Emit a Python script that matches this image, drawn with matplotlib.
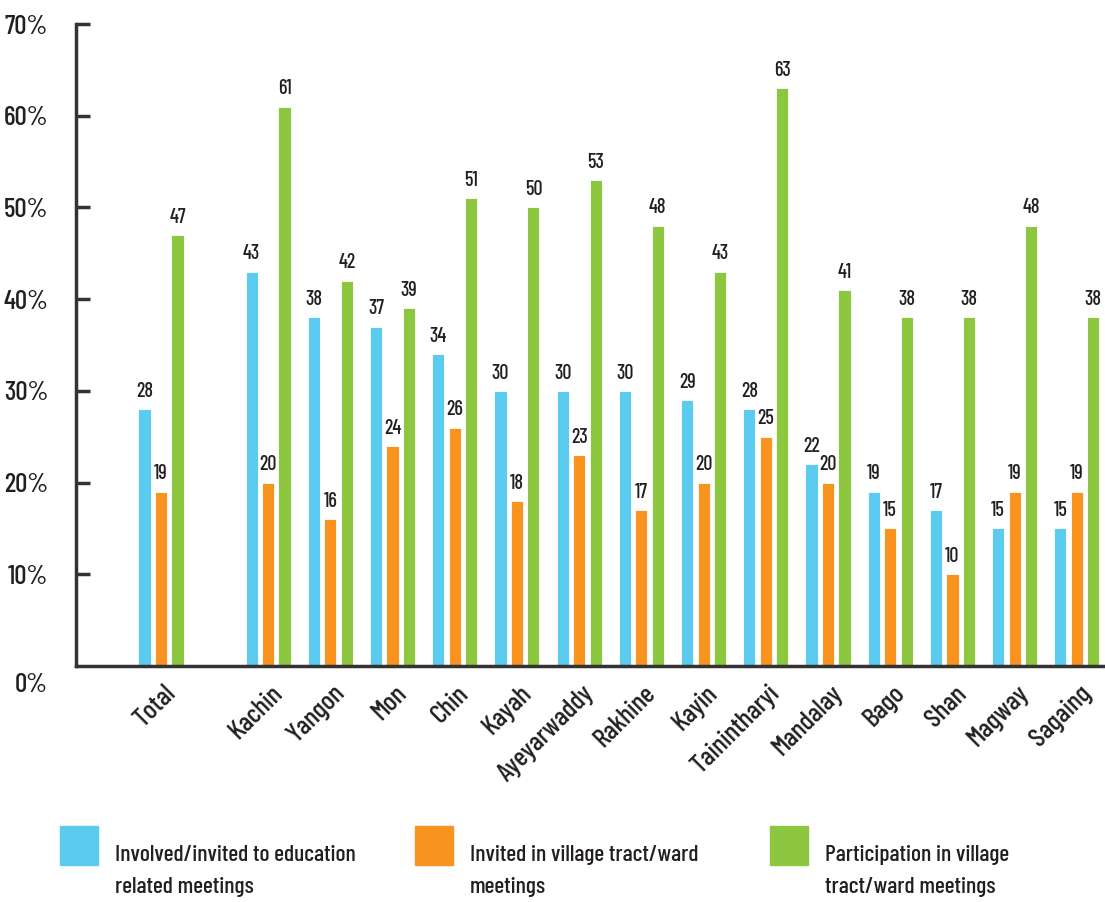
import matplotlib
matplotlib.use("Agg")
import matplotlib.pyplot as plt
import matplotlib.transforms as mtransforms
from matplotlib.patches import Rectangle
import numpy as np

plt.rcParams['font.family'] = ['Barlow Condensed', 'DejaVu Sans']
plt.rcParams['font.weight'] = 'medium'

categories = ["Total", "Kachin", "Yangon", "Mon", "Chin", "Kayah", "Ayeyarwaddy",
              "Rakhine", "Kayin", "Tainintharyi", "Mandalay", "Bago", "Shan",
              "Magway", "Sagaing"]
education = [28, 43, 38, 37, 34, 30, 30, 30, 29, 28, 22, 19, 17, 15, 15]
invited = [19, 20, 16, 24, 26, 18, 23, 17, 20, 25, 20, 15, 10, 19, 19]
participation = [47, 61, 42, 39, 51, 50, 53, 48, 43, 63, 41, 38, 38, 48, 38]
series_names = ["Involved/invited to education\nrelated meetings",
                "Invited in village tract/ward\nmeetings",
                "Participation in village\ntract/ward meetings"]
colors = ["#5BCBF0", "#F7931E", "#8DC63F"]
yticks = [0, 10, 20, 30, 40, 50, 60, 70]

text_color = "#231F20"
axis_color = "#333333"

fig = plt.figure(figsize=(11.05, 9.02), dpi=100)
ax = fig.add_axes([76/1105, 236/902, (1103-76)/1105, (666-24)/902])

x = np.array([0.0] + [1.72 + i for i in range(len(categories) - 1)])
w = 0.195
step = 0.265
for k, (vals, c) in enumerate(zip([education, invited, participation], colors)):
    xs = x + (k - 1) * step
    ax.bar(xs, vals, width=w, color=c, edgecolor="white", linewidth=0.6, zorder=2)
    for xi, v in zip(xs, vals):
        ax.annotate(str(v), (xi, v), xytext=(0, 6), textcoords="offset points",
                    ha="center", va="bottom", fontsize=14.5, color=text_color)

ax.set_xlim(-1.367, 15.14)
ax.set_ylim(0, 70)

for s in ["top", "right"]:
    ax.spines[s].set_visible(False)
for s in ["left", "bottom"]:
    ax.spines[s].set_color(axis_color)
    ax.spines[s].set_linewidth(2.5)

ax.set_yticks(yticks)
ax.set_yticklabels([f"{t}%" for t in yticks])
ax.tick_params(axis="y", direction="in", length=10, width=2.5, color=axis_color,
               labelsize=19.5, labelcolor=text_color, pad=20)
ax.yaxis.get_major_ticks()[0].tick1line.set_visible(False)
# shift the 0% label downward
lbl0 = ax.get_yticklabels()[0]
lbl0.set_transform(lbl0.get_transform() + mtransforms.ScaledTranslation(0, -17/100, fig.dpi_scale_trans))

ax.set_xticks(x)
ax.set_xticklabels(categories, rotation=45, ha="right", va="top", rotation_mode="anchor")
ax.tick_params(axis="x", length=0, labelsize=19.5, labelcolor=text_color, pad=11)
for lbl in ax.get_xticklabels():
    lbl.set_transform(lbl.get_transform() + mtransforms.ScaledTranslation(2/100, 0, fig.dpi_scale_trans))

# legend
leg_x = [60, 415, 770]
for lx, c, name in zip(leg_x, colors, series_names):
    fig.patches.append(Rectangle((lx/1105, 1 - 865/902), 38/1105, 39/902,
                                 transform=fig.transFigure, color=c))
    fig.text((lx + 55)/1105, 1 - 871/902, name, fontsize=17, color=text_color,
             ha="left", va="center", linespacing=1.7)

fig.savefig("out.png", dpi=100)
